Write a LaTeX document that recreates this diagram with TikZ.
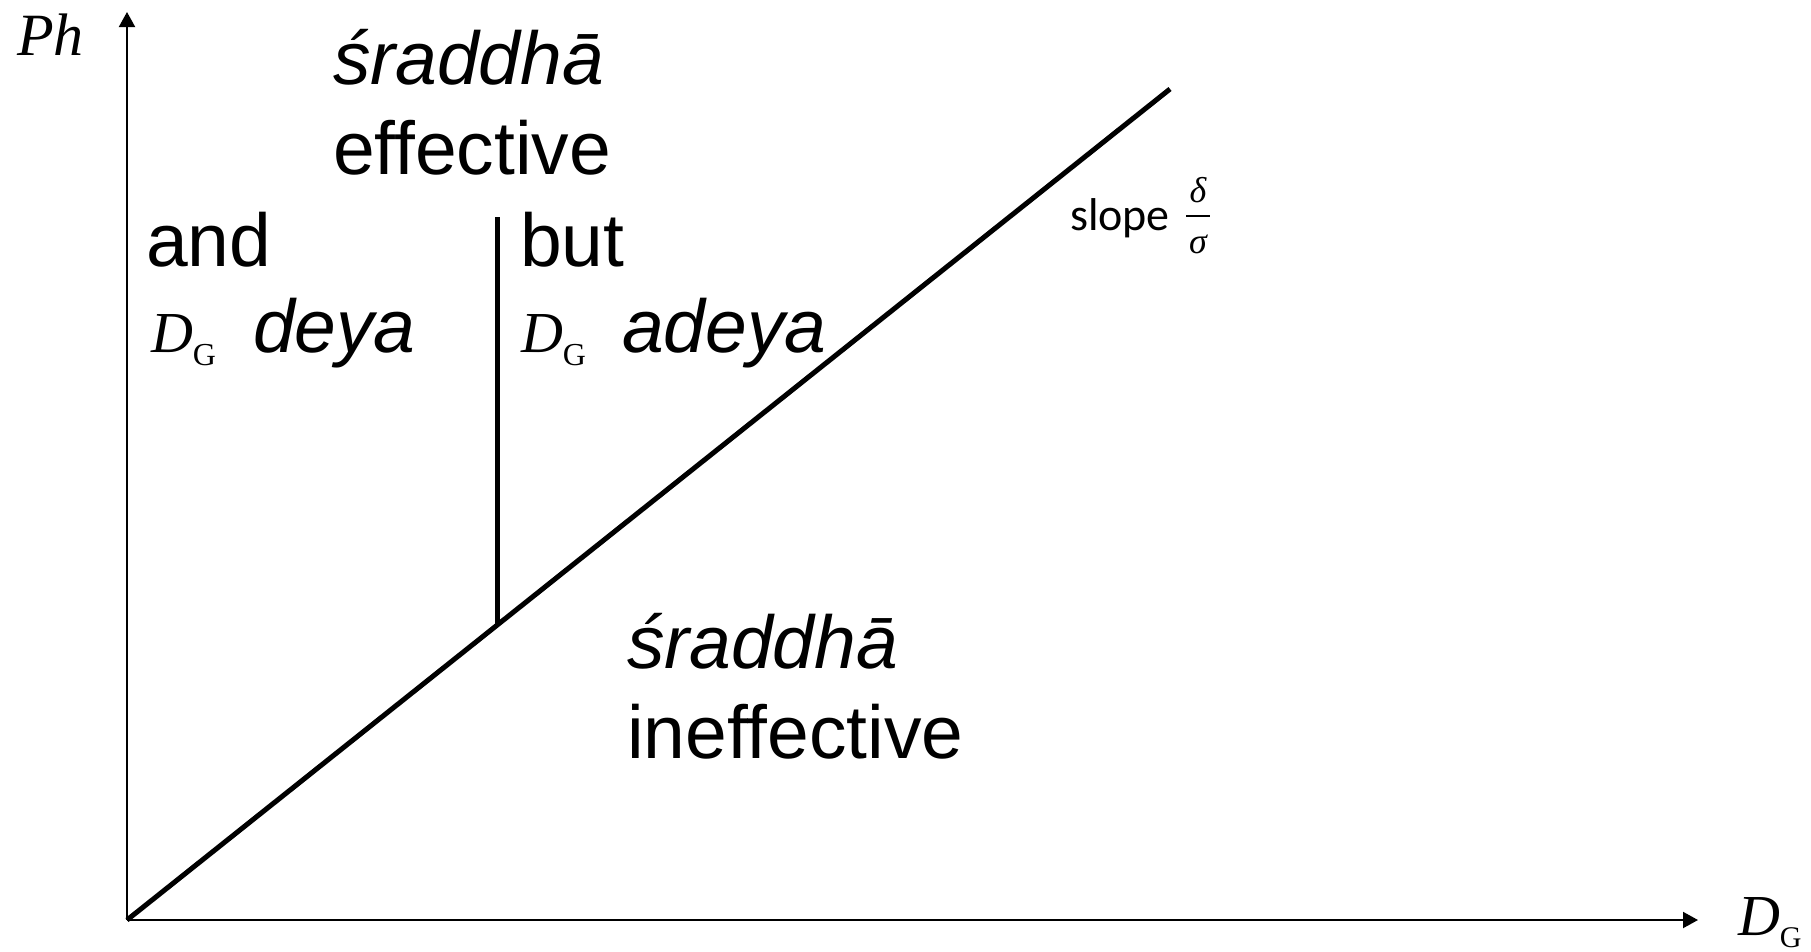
\documentclass[tikz,border=0pt]{standalone}
\usepackage{fontspec}
\setmainfont{Liberation Sans}
\newfontfamily\serifface{Liberation Serif}
\newfontfamily\slopeface{Carlito}
\usetikzlibrary{arrows.meta}
\newcommand{\bigtxt}{\fontsize{75}{90}\selectfont}
\newcommand{\DGlabel}[3]{{\fontsize{#1}{#1}\selectfont\serifface\itshape D}\raisebox{-#2pt}{\fontsize{#3}{#3}\selectfont\serifface G}}
\tikzset{
  lbl/.style={anchor=base west, inner sep=0pt, outer sep=0pt, font=\bigtxt},
  axis/.style={line width=2pt, -{Triangle[length=15pt,width=16pt]}},
  thickline/.style={line width=5pt},
}
\begin{document}
\begin{tikzpicture}[x=1pt,y=-1pt]
\useasboundingbox (0,0) rectangle (1811,951);
\coordinate (O) at (127,920);
\coordinate (ytop) at (127,12);
\coordinate (xend) at (1698,920);
\coordinate (dend) at (1170,89);
\coordinate (vtop) at (497,217);
\coordinate (vbot) at (497,625);
% axes
\draw[axis] (O) -- (ytop);
\draw[axis] (O) -- (xend);
% lines
\draw[thickline] (O) -- (dend);
\draw[thickline] (vtop) -- (vbot);
% labels
\node[lbl] (ph) at (17,55) {\fontsize{60}{60}\selectfont\serifface\itshape Ph};
\node[lbl] (s1) at (333,84) {\itshape śraddhā};
\node[lbl] (eff) at (333,174) {effective};
\node[lbl] (and) at (146,266) {and};
\node[lbl] (dg1) at (151,352) {\DGlabel{58}{13}{32}};
\node[lbl] (deya) at (253,352) {\itshape deya};
\node[lbl] (but) at (520,266) {but};
\node[lbl] (dg2) at (521,352) {\DGlabel{58}{13}{32}};
\node[lbl] (adeya) at (622,352) {\itshape adeya};
\node[lbl] (s2) at (627,668) {\itshape śraddhā};
\node[lbl] (ineff) at (627,758) {ineffective};
\node[lbl] (slope) at (1070,230) {\fontsize{46}{46}\selectfont\slopeface slope};
\node[inner sep=0pt, anchor=base] (delta) at (1198,202) {\fontsize{36}{36}\selectfont\serifface\itshape δ};
\node[inner sep=0pt, anchor=base] (sigma) at (1198,253) {\fontsize{36}{36}\selectfont\serifface\itshape σ};
\draw[line width=2.5pt] (1186,216) -- (1210,216);
\node[lbl] (dgx) at (1738,935) {\DGlabel{58}{12}{30}};
\end{tikzpicture}
\end{document}
